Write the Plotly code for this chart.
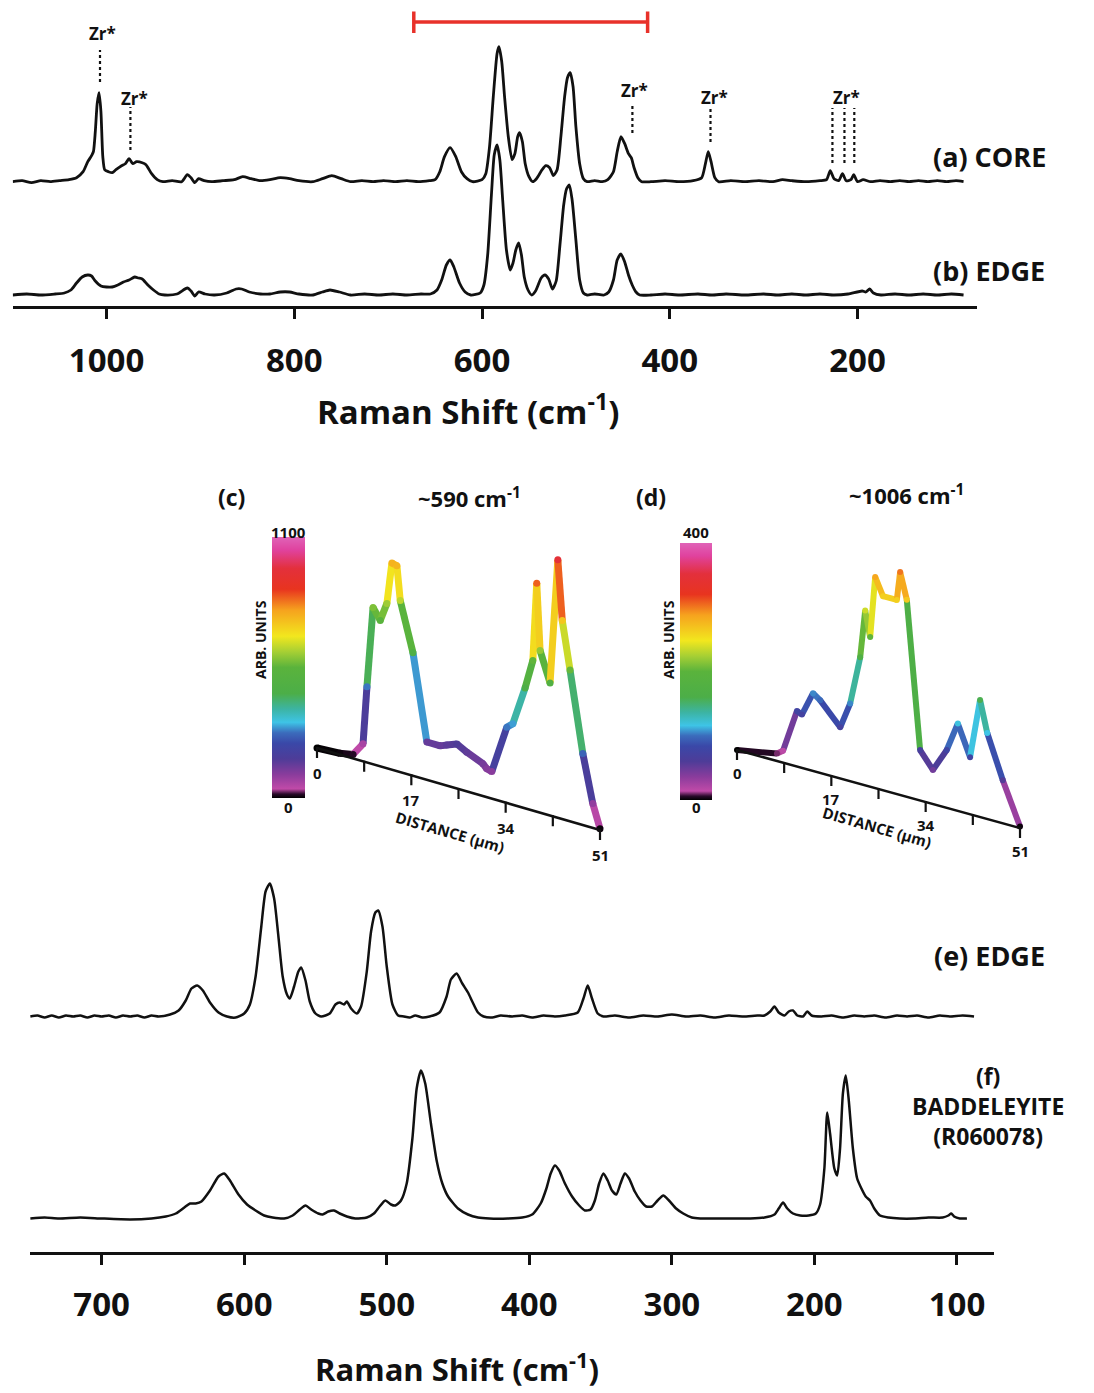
import plotly.graph_objects as go
from plotly.colors import sample_colorscale

# page body adds an 8 px margin; figure is sized so the picture fills the 1094x1393 window
PAGE_MARGIN = 8
W, H = 1094 - PAGE_MARGIN, 1393 - PAGE_MARGIN

# ------------------------------------------------------------------ data
# Top panel: Raman shift (cm-1), intensity (arb.)
CORE_A = [(1100,0),(1090,1),(1080,-1),(1070,1),(1060,0),(1050,1),(1040,2),(1032,4),(1025,10),(1020,20),
          (1016,26),(1014,30),(1012,50),(1010,78),(1008,89),(1006,70),(1004,25),(1002,12),(998,10),(994,9),
          (990,12),(984,16),(980,18),(976,23),(972,18),(968,20),(962,19),(958,17),(952,8),(946,2),(940,0),
          (930,1),(920,0),(914,7),(910,4),(906,-1),(902,3),(896,1),(888,0),(876,1),(864,2),(855,5),(846,3),
          (836,1),(826,2),(815,4),(805,3),(795,1),(780,0),(770,3),(760,6),(750,3),(740,0),(728,1),(716,0),
          (705,1),(692,0),(680,1),(668,0),(656,1),(650,2),(645,10),(640,25),(634,34),(628,25),(622,10),
          (616,3),(610,0),(600,2),(596,8),(592,35),(588,85),(584,128),(582,135),(579,120),(576,85),(572,45),
          (568,22),(565,28),(562,45),(560,49),(557,40),(554,18),(550,5),(546,0),(542,3),(536,12),(532,16),
          (528,14),(524,6),(520,12),(516,45),(512,85),(509,104),(506,109),(503,95),(500,55),(496,18),(492,3),
          (488,0),(480,1),(472,0),(466,2),(460,10),(456,30),(452,45),(448,38),(444,28),(441,24),(438,14),
          (434,4),(430,0),(420,0),(405,1),(390,0),(375,1),(366,4),(362,18),(359,30),(356,20),(352,4),(348,0),
          (335,1),(320,0),(305,1),(290,0),(280,2),(270,1),(255,0),(240,1),(233,2),(229,11),(225,3),(220,1),
          (216,8),(212,1),(207,2),(204,7),(200,0),(194,2),(186,0),(176,1),(165,0),(155,1),(145,0),(135,1),
          (125,0),(115,1),(105,0),(95,1),(87,0)]

EDGE_B = [(1100,0),(1085,1),(1070,0),(1055,1),(1045,2),(1038,5),(1032,12),(1026,18),(1020,20),(1016,19),
          (1012,14),(1006,9),(1000,8),(994,8),(988,10),(982,13),(976,15),(970,18),(966,17),(962,16),(956,10),
          (950,5),(944,1),(938,0),(925,1),(914,7),(910,4),(906,-1),(902,3),(895,1),(885,0),(872,2),(862,6),
          (856,6),(848,3),(836,1),(826,1),(815,3),(805,3),(795,1),(780,0),(770,3),(762,5),(752,3),(740,0),
          (725,1),(710,0),(695,1),(680,0),(665,1),(655,1),(648,5),(643,15),(638,30),(634,35),(630,28),
          (624,12),(618,3),(612,0),(602,2),(598,10),(594,40),(590,100),(587,140),(584,150),(581,135),(578,95),
          (574,45),(570,25),(567,32),(564,45),(561,52),(558,40),(555,18),(551,5),(547,0),(543,4),(537,17),
          (533,20),(529,16),(525,6),(521,14),(517,50),(513,90),(510,106),(507,110),(504,95),(500,55),(496,15),
          (492,2),(488,0),(480,1),(470,0),(465,3),(460,15),(456,35),(452,41),(448,33),(444,20),(440,10),
          (436,3),(432,0),(420,0),(405,1),(390,0),(370,1),(355,0),(340,1),(320,0),(300,1),(285,0),(270,1),
          (255,0),(240,1),(225,0),(210,1),(195,4),(191,3),(187,6),(183,2),(175,0),(160,1),(145,0),(130,1),
          (115,0),(100,1),(87,0)]

# Bottom panel
EDGE_E = [(750,0),(745,1),(740,-1),(735,1),(730,-1),(725,1),(720,0),(715,1),(710,-1),(705,1),(700,0),
          (695,1),(690,-1),(685,1),(680,0),(675,1),(670,-1),(665,1),(660,0),(652,2),(646,6),(641,16),
          (637,28),(633,31),(629,26),(624,14),(618,4),(612,0),(606,-1),(600,3),(596,12),(592,40),(588,90),
          (585,125),(582,133),(579,118),(576,80),(573,40),(570,22),(568,18),(565,30),(562,45),(560,49),
          (557,36),(554,15),(550,3),(546,0),(540,3),(536,12),(533,14),(530,12),(528,15),(525,8),(521,3),
          (518,10),(514,45),(511,85),(508,104),(506,106),(503,90),(500,50),(496,12),(492,1),(488,0),(484,-1),
          (480,1),(475,-1),(470,0),(463,4),(458,20),(455,37),(451,43),(447,33),(443,24),(440,15),(436,4),
          (432,0),(426,-1),(420,1),(412,0),(405,1),(398,-1),(390,1),(382,0),(375,1),(366,4),(362,18),
          (359,31),(356,18),(352,3),(348,0),(340,1),(330,-1),(320,1),(310,0),(300,2),(290,0),(280,1),
          (270,-1),(260,1),(250,0),(240,1),(235,1),(231,5),(228,10),(225,4),(221,1),(218,5),(215,6),(212,1),
          (208,0),(205,5),(202,1),(195,0),(188,1),(180,-1),(172,1),(165,0),(158,1),(150,-1),(142,1),(135,0),
          (128,1),(120,-1),(112,1),(105,0),(96,1),(88,0)]

BADDELEYITE_F = [(750,0),(740,1),(730,0),(715,1),(700,0),(680,-1),(665,0),(655,2),(648,5),(642,11),
          (638,15),(634,15),(630,17),(624,28),(618,42),(614,45),(610,38),(604,24),(598,14),(592,8),(586,3),
          (580,1),(572,0),(566,3),(561,9),(557,13),(553,9),(548,5),(545,4),(541,7),(537,8),(533,5),(528,2),
          (522,0),(514,1),(509,5),(505,12),(501,18),(497,14),(494,13),(490,18),(486,35),(482,80),(479,130),
          (476,148),(473,135),(469,95),(465,58),(461,35),(457,22),(450,10),(443,4),(436,1),(428,0),(415,0),
          (405,1),(398,4),(392,15),(388,30),(385,45),(382,53),(379,48),(375,35),(370,22),(365,13),(361,8),
          (357,9),(354,18),(351,35),(348,45),(345,38),(342,28),(339,24),(336,35),(333,45),(330,40),(326,27),
          (322,18),(318,12),(314,12),(310,18),(306,23),(302,18),(297,10),(292,5),(286,1),(280,0),(260,0),
          (245,0),(235,1),(228,4),(225,10),(222,16),(219,10),(215,5),(210,3),(204,3),(199,5),(196,14),
          (193,50),(191,106),(189,85),(186,50),(184,43),(182,70),(180,125),(178,143),(176,120),(173,70),
          (170,40),(167,30),(164,22),(161,18),(158,10),(154,3),(148,1),(140,0),(130,0),(120,1),(110,1),
          (106,3),(104,5),(102,2),(98,0),(93,0)]

TOP_TICKS = [1000, 800, 600, 400, 200]
BOTTOM_TICKS = [700, 600, 500, 400, 300, 200, 100]
RED_BAR = (672.7, 423.6)
ZR_SINGLE = [1007.0, 974.6, 439.8, 356.6]
ZR_TRIPLE = [226.7, 213.9, 203.4]

# Line-scan profiles (c) ~590 cm-1 and (d) ~1006 cm-1
C_DIST = [0, 4.1, 6.5, 8.3, 9.0, 10.1, 11.4, 12.6, 13.5, 14.4, 15.0, 17.3, 19.8, 22.2, 23.4, 25.2, 27.0,
          29.9, 30.6, 31.5, 34.2, 35.3, 37.5, 38.9, 39.6, 40.2, 42.0, 43.4, 44.2, 45.6, 47.9, 49.7, 51]
C_INT = [0, 5, 15, 65, 280, 580, 540, 610, 765, 760, 635, 455, 140, 140, 150, 165, 145, 120, 105, 100,
         280, 300, 445, 555, 845, 600, 490, 955, 735, 560, 265, 90, 5]
D_DIST = [0, 7.2, 8.3, 10.8, 11.7, 13.7, 15.0, 18.6, 20.4, 22.2, 23.1, 24.0, 24.9, 26.3, 28.8, 29.4, 30.6,
          33.0, 35.3, 37.8, 39.8, 42.0, 43.8, 45.1, 47.9, 51]
D_INT = [0, 10, 16, 75, 72, 105, 98, 69, 105, 171, 236, 202, 285, 262, 262, 301, 266, 68, 46, 78, 118,
         77, 158, 116, 58, 2]
DIST_TICKS = [0, 17, 34, 51]
DIST_MINOR = [8.5, 25.5, 42.5]
C_MAX, D_MAX = 1100, 400

RAINBOW = [[0.0, '#000000'], [0.015, '#2a0a2a'], [0.035, '#c04aa8'], [0.09, '#8a3c9c'], [0.15, '#4e3c98'],
           [0.21, '#3a48a8'], [0.25, '#3b6cbc'], [0.29, '#3ec4e6'], [0.34, '#3cb4a4'], [0.40, '#4cae48'],
           [0.50, '#5ab33c'], [0.56, '#a6cf34'], [0.62, '#f2e71e'], [0.72, '#f6a21e'], [0.80, '#e8341f'],
           [0.88, '#e3303c'], [0.95, '#e0429e'], [1.0, '#e063b8']]

# ------------------------------------------------------------------ layout helpers
def px(x):
    return (x - PAGE_MARGIN) / W

def py(y):
    return 1 - (y - PAGE_MARGIN) / H

FONT = 'Open Sans, Noto Sans, DejaVu Sans, sans-serif'
INK = '#111111'

fig = go.Figure()

# ---- top spectra (y unit = 1 px)
OFF_A, OFF_B = 124, 10.7
for spec, off in [(CORE_A, OFF_A), (EDGE_B, OFF_B)]:
    fig.add_trace(go.Scatter(x=[p[0] for p in spec], y=[off + p[1] for p in spec], mode='lines',
                             line=dict(color=INK, width=2.8, shape='spline', smoothing=0.6),
                             xaxis='x', yaxis='y', hoverinfo='skip'))

# ---- bottom spectra
OFF_E, OFF_F = 235, 33
for spec, off in [(EDGE_E, OFF_E), (BADDELEYITE_F, OFF_F)]:
    fig.add_trace(go.Scatter(x=[p[0] for p in spec], y=[off + p[1] for p in spec], mode='lines',
                             line=dict(color=INK, width=2.5, shape='spline', smoothing=0.6),
                             xaxis='x2', yaxis='y2', hoverinfo='skip'))

# ---- profile panels
def add_profile(dist, inten, cmax, xa, ya, cax, scale, skew, lw):
    yv = [i * scale - skew * d for d, i in zip(dist, inten)]
    for k in range(len(dist) - 1):
        v = min(max((inten[k] + inten[k + 1]) / 2 / cmax, 0), 1)
        col = sample_colorscale(RAINBOW, [v])[0]
        fig.add_trace(go.Scatter(x=[dist[k], dist[k + 1]], y=[yv[k], yv[k + 1]], mode='lines',
                                 line=dict(color=col, width=lw), xaxis=xa, yaxis=ya, hoverinfo='skip'))
    fig.add_trace(go.Scatter(x=dist, y=yv, mode='markers',
                             marker=dict(color=inten, coloraxis=cax, size=lw, line=dict(width=0)),
                             xaxis=xa, yaxis=ya, hoverinfo='skip'))
    # slanted distance axis
    fig.add_trace(go.Scatter(x=[0, 51], y=[0, -skew * 51], mode='lines',
                             line=dict(color=INK, width=2.5), xaxis=xa, yaxis=ya, hoverinfo='skip'))
    tx, ty = [], []
    for t in DIST_TICKS + DIST_MINOR:
        tx += [t, t, None]
        ty += [-skew * t + 1, -skew * t - 10, None]
    fig.add_trace(go.Scatter(x=tx, y=ty, mode='lines', line=dict(color=INK, width=2.2),
                             xaxis=xa, yaxis=ya, hoverinfo='skip'))

SKEW_C, SKEW_D = 82 / 51, 78 / 51
add_profile(C_DIST, C_INT, C_MAX, 'x3', 'y3', 'coloraxis', 1 / 3.7, SKEW_C, 7)
add_profile(D_DIST, D_INT, D_MAX, 'x4', 'y4', 'coloraxis2', 1 / 1.35, SKEW_D, 6)

PPU = 283 / 51  # px per micrometre

def cbar(x0, yc, length, thick):
    return dict(x=px(x0), xanchor='left', y=py(yc), yanchor='middle', len=length, lenmode='pixels',
                thickness=thick, thicknessmode='pixels', xpad=0, ypad=0, outlinewidth=0,
                showticklabels=False, ticks='')

fig.update_layout(
    width=W, height=H, margin=dict(l=0, r=0, t=0, b=0), autosize=False,
    paper_bgcolor='white', plot_bgcolor='rgba(0,0,0,0)', showlegend=False,
    xaxis=dict(domain=[px(12.7), px(976.7)], range=[1100, 73], anchor='y', showline=True,
               linecolor=INK, linewidth=3, ticks='outside', ticklen=10, tickwidth=2.5, tickcolor=INK,
               tickvals=TOP_TICKS, ticktext=[str(t) for t in TOP_TICKS], ticklabelstandoff=14,
               tickfont=dict(family=FONT, size=33, color=INK, weight=700),
               showgrid=False, zeroline=False),
    yaxis=dict(domain=[py(305.7), py(9)], range=[0, 296.7], visible=False),
    xaxis2=dict(domain=[px(29.8), px(994)], range=[750.4, 74], anchor='y2', showline=True,
                linecolor=INK, linewidth=3, ticks='outside', ticklen=10, tickwidth=2.5, tickcolor=INK,
                tickvals=BOTTOM_TICKS, ticktext=[str(t) for t in BOTTOM_TICKS], ticklabelstandoff=12,
                tickfont=dict(family=FONT, size=33, color=INK, weight=700),
                showgrid=False, zeroline=False),
    yaxis2=dict(domain=[py(1251.5), py(860)], range=[0, 391.5], visible=False),
    xaxis3=dict(domain=[px(317 - 3 * PPU), px(600 + 3 * PPU)], range=[-3, 54], visible=False, anchor='y3'),
    yaxis3=dict(domain=[py(880), py(530)], range=[748 - 880, 748 - 530], visible=False, anchor='x3'),
    xaxis4=dict(domain=[px(737 - 3 * PPU), px(1020 + 3 * PPU)], range=[-3, 54], visible=False, anchor='y4'),
    yaxis4=dict(domain=[py(880), py(530)], range=[750 - 880, 750 - 530], visible=False, anchor='x4'),
    coloraxis=dict(colorscale=RAINBOW, cmin=0, cmax=C_MAX, colorbar=cbar(272, 667.5, 261, 33)),
    coloraxis2=dict(colorscale=RAINBOW, cmin=0, cmax=D_MAX, colorbar=cbar(680, 671.5, 257, 32)),
)

# ---- shapes: red bar and Zr* dotted markers
shapes = []
RED = '#e8312a'
shapes.append(dict(type='line', xref='x', yref='y', x0=RED_BAR[0], x1=RED_BAR[1], y0=283.7, y1=283.7,
                   line=dict(color=RED, width=3.5)))
for xb in RED_BAR:
    shapes.append(dict(type='line', xref='x', yref='y', x0=xb, x1=xb, y0=272.7, y1=294.2,
                       line=dict(color=RED, width=3.5)))
zr_lines = [(ZR_SINGLE[0], 223.7, 255.7), (ZR_SINGLE[1], 155.7, 198.7),
            (ZR_SINGLE[2], 172.7, 200.7), (ZR_SINGLE[3], 163.7, 197.7)]
zr_lines += [(z, 142.7, 197.7) for z in ZR_TRIPLE]
for xz, y0, y1 in zr_lines:
    shapes.append(dict(type='line', xref='x', yref='y', x0=xz, x1=xz, y0=y0, y1=y1,
                       line=dict(color=INK, width=2.2, dash='dot')))
fig.update_layout(shapes=shapes)

# ---- annotations
ann = []

def label(text, x, y, size, xref='paper', yref='paper', angle=0, **kw):
    ann.append(dict(text=text, x=x, y=y, xref=xref, yref=yref, showarrow=False, textangle=angle,
                    font=dict(family=FONT, size=size, color=INK, weight=700),
                    xanchor='center', yanchor='middle', **kw))

zr_label_pos = [(ZR_SINGLE[0] - 3, 272.7), (969.8, 207.7), (437.3, 215.7), (352.0, 208.7), (211.4, 208.7)]
for xz, yz in zr_label_pos:
    label('Zr*', xz, yz, 17, xref='x', yref='y')

label('(a) CORE', px(989), py(156.7), 27)
label('(b) EDGE', px(989), py(270), 27)
label('(e) EDGE', px(989), py(956), 27)
label('(f)<br>BADDELEYITE<br>(R060078)', px(988), py(1106), 23)
label('Raman Shift (cm<sup>-1</sup>)', px(467.5), py(409), 33)
label('Raman Shift (cm<sup>-1</sup>)', px(457), py(1367), 31)

label('(c)', px(231), py(497), 23)
label('~590 cm<sup>-1</sup>', px(469), py(497), 22)
label('(d)', px(651), py(497), 23)
label('~1006 cm<sup>-1</sup>', px(906), py(494), 22)

for xc, top, bottom in [(288.5, C_MAX, 0), (696, D_MAX, 0)]:
    label(str(top), px(xc), py(531.5), 15)
    label(str(bottom), px(xc), py(807), 15)
label('ARB. UNITS', px(260), py(640), 14, angle=-90)
label('ARB. UNITS', px(668), py(640), 14, angle=-90)

for xa, ya, skew, below, dist_lab in [('x3', 'y3', SKEW_C, 25, (24.0, -84)), ('x4', 'y4', SKEW_D, 23, (25.2, -77))]:
    for t in DIST_TICKS:
        label(str(t), t, -skew * t - below, 15, xref=xa, yref=ya)
    label('DISTANCE (µm)', dist_lab[0], dist_lab[1], 15, xref=xa, yref=ya, angle=16)

fig.update_layout(annotations=ann)

fig.write_html('out.html')
